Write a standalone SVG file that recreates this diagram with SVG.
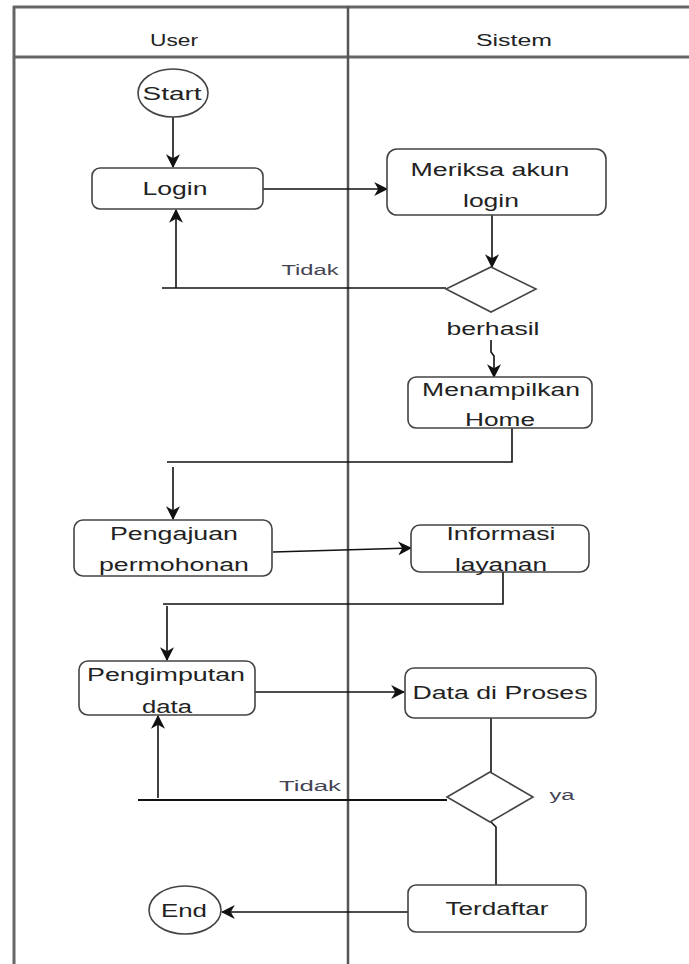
<svg xmlns="http://www.w3.org/2000/svg" width="689" height="964" viewBox="0 0 689 964">
<style>
.frame{stroke:#666;stroke-width:3;fill:none}
.div{stroke:#555;stroke-width:2.5;fill:none}
.box{fill:#fff;stroke:#444;stroke-width:1.6}
.c{stroke:#111;stroke-width:1.6;fill:none}
.t{font-family:"Liberation Sans",Arial,sans-serif;font-size:17.5px;fill:#222;text-anchor:middle;dominant-baseline:central}
.h{font-size:16px}
.l{font-size:14px;fill:#445}
</style>
<defs>
<marker id="arr" viewBox="0 0 12 12" refX="11" refY="6" markerWidth="14" markerHeight="14" markerUnits="userSpaceOnUse" orient="auto">
<path d="M0,0 L12,6 L0,12 L3.5,6 Z" fill="#111"/>
</marker>
</defs>
<g id="lanes">
<line class="frame" x1="13" y1="7" x2="689" y2="7"/>
<line class="frame" x1="13" y1="57" x2="689" y2="57"/>
<line class="frame" x1="14" y1="6" x2="14" y2="964"/>
<line class="div" x1="348" y1="6" x2="348" y2="964"/>
<text class="t h" x="174" y="40" textLength="48" lengthAdjust="spacingAndGlyphs">User</text>
<text class="t h" x="514" y="40" textLength="76" lengthAdjust="spacingAndGlyphs">Sistem</text>
</g>
<g id="connectors">
<line class="c" x1="173" y1="116" x2="173" y2="167" marker-end="url(#arr)"/>
<line class="c" x1="263" y1="189" x2="387" y2="189" marker-end="url(#arr)"/>
<line class="c" x1="492" y1="215" x2="492" y2="267" marker-end="url(#arr)"/>
<line class="c" x1="162" y1="288" x2="446" y2="288"/>
<line class="c" x1="176" y1="288" x2="176" y2="210" marker-end="url(#arr)"/>
<path class="c" d="M491 340 L491 352 L494 356 L494 377" marker-end="url(#arr)"/>
<polyline class="c" points="512,428 512,462 167,462"/>
<line class="c" x1="173" y1="467" x2="173" y2="519" marker-end="url(#arr)"/>
<line class="c" x1="273" y1="552" x2="411" y2="548" marker-end="url(#arr)"/>
<polyline class="c" points="503,572 503,604 163,604"/>
<line class="c" x1="167" y1="606" x2="167" y2="660" marker-end="url(#arr)"/>
<line class="c" x1="255" y1="692" x2="404" y2="692" marker-end="url(#arr)"/>
<line class="c" x1="491" y1="718" x2="491" y2="772"/>
<line class="c" x1="138" y1="800" x2="447" y2="800" style="stroke-width:2.2"/>
<line class="c" x1="158" y1="798" x2="158" y2="716" marker-end="url(#arr)"/>
<path class="c" d="M491 822 L496 827 L496 885"/>
<line class="c" x1="408" y1="912" x2="222" y2="912" marker-end="url(#arr)"/>
<text class="t l" x="310" y="270" textLength="57" lengthAdjust="spacingAndGlyphs">Tidak</text>
<text class="t" x="493" y="329" textLength="93" lengthAdjust="spacingAndGlyphs">berhasil</text>
<text class="t l" x="310" y="786" textLength="62" lengthAdjust="spacingAndGlyphs">Tidak</text>
<text class="t l" x="562" y="795" textLength="25" lengthAdjust="spacingAndGlyphs">ya</text>
</g>
<g id="start">
<ellipse class="box" cx="173" cy="93" rx="35" ry="24"/>
<text class="t" x="172" y="94" textLength="59" lengthAdjust="spacingAndGlyphs">Start</text>
</g>
<g id="login">
<rect class="box" x="92" y="168" width="171" height="41" rx="8"/>
<text class="t" x="175" y="189" textLength="65" lengthAdjust="spacingAndGlyphs">Login</text>
</g>
<g id="meriksa">
<rect class="box" x="387" y="149" width="219" height="66" rx="10"/>
<text class="t" x="490" y="170" textLength="159" lengthAdjust="spacingAndGlyphs">Meriksa akun</text>
<text class="t" x="491" y="201" textLength="56" lengthAdjust="spacingAndGlyphs">login</text>
</g>
<g id="decision1">
<polygon class="box" points="491,267 536,289 491,312 446,289"/>
</g>
<g id="menampilkan">
<rect class="box" x="408" y="377" width="184" height="51" rx="8"/>
<text class="t" x="501" y="390" textLength="158" lengthAdjust="spacingAndGlyphs">Menampilkan</text>
<text class="t" x="500" y="420" textLength="70" lengthAdjust="spacingAndGlyphs">Home</text>
</g>
<g id="pengajuan">
<rect class="box" x="74" y="520" width="198" height="56" rx="9"/>
<text class="t" x="174" y="534" textLength="128" lengthAdjust="spacingAndGlyphs">Pengajuan</text>
<text class="t" x="174" y="565" textLength="150" lengthAdjust="spacingAndGlyphs">permohonan</text>
</g>
<g id="informasi">
<rect class="box" x="411" y="525" width="178" height="47" rx="9"/>
<text class="t" x="501" y="534" textLength="109" lengthAdjust="spacingAndGlyphs">Informasi</text>
<text class="t" x="501" y="565" textLength="92" lengthAdjust="spacingAndGlyphs">layanan</text>
</g>
<g id="pengimputan">
<rect class="box" x="79" y="661" width="176" height="54" rx="9"/>
<text class="t" x="166" y="675" textLength="158" lengthAdjust="spacingAndGlyphs">Pengimputan</text>
<text class="t" x="167" y="707" textLength="50" lengthAdjust="spacingAndGlyphs">data</text>
</g>
<g id="dataproses">
<rect class="box" x="405" y="668" width="191" height="50" rx="9"/>
<text class="t" x="500" y="693" textLength="175" lengthAdjust="spacingAndGlyphs">Data di Proses</text>
</g>
<g id="decision2">
<polygon class="box" points="490,772 533,797 490,822 447,797"/>
</g>
<g id="terdaftar">
<rect class="box" x="408" y="885" width="178" height="47" rx="8"/>
<text class="t" x="497" y="909" textLength="103" lengthAdjust="spacingAndGlyphs">Terdaftar</text>
</g>
<g id="end">
<ellipse class="box" cx="185" cy="910" rx="36" ry="24"/>
<text class="t" x="184" y="911" textLength="46" lengthAdjust="spacingAndGlyphs">End</text>
</g>
</svg>
